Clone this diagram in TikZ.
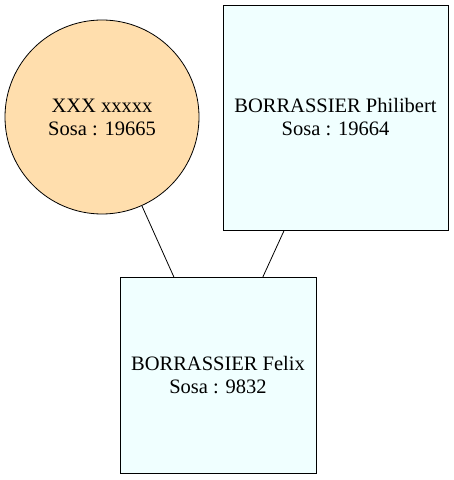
\documentclass[tikz,border=0pt]{standalone}
\usepackage{fontspec}
\setmainfont{Liberation Serif}
\definecolor{navajo}{HTML}{FFDEAD}
\definecolor{azure}{HTML}{F0FFFF}
\tikzstyle{woman} = [circle, draw, fill=navajo, line width=0.8pt, minimum size=194pt, inner sep=0pt, align=center, font=\fontsize{20.5}{23}\selectfont]
\tikzstyle{man} = [rectangle, draw, fill=azure, line width=0.8pt, inner sep=0pt, align=center, font=\fontsize{20.5}{23}\selectfont]
\tikzstyle{line} = [draw, line width=0.8pt]

\begin{document}
\begin{tikzpicture}[x=1pt, y=1pt]
    \useasboundingbox (0,0) rectangle (454,480);
    % Place nodes
    \node [woman] (mere) at (102,363) {XXX xxxxx\\Sosa : 19665};
    \node [man, minimum size=225pt] (pere) at (335.5,362.5) {BORRASSIER Philibert\\Sosa : 19664};
    \node [man, minimum size=196pt] (enfant) at (218,104.5) {BORRASSIER Felix\\Sosa : 9832};

    % Draw edges
    \path [line] (mere) -- (enfant);
    \path [line] (pere) -- (enfant);
\end{tikzpicture}
\end{document}
